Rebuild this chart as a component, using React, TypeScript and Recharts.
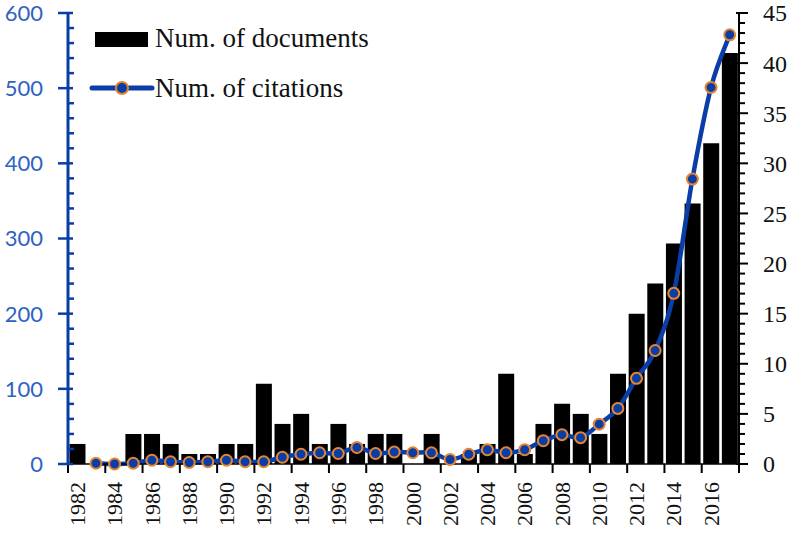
import React from 'react';
import { ComposedChart, Bar, Line, XAxis, YAxis, Legend } from 'recharts';

// values
const YEARS = [
  '1982', '1983', '1984', '1985', '1986', '1987', '1988', '1989', '1990', '1991',
  '1992', '1993', '1994', '1995', '1996', '1997', '1998', '1999', '2000', '2001',
  '2002', '2003', '2004', '2005', '2006', '2007', '2008', '2009', '2010', '2011',
  '2012', '2013', '2014', '2015', '2016', '2017',
];
const DOCUMENTS = [
  2, 0, 0, 3, 3, 2, 1, 1, 2, 2,
  8, 4, 5, 2, 4, 2, 3, 3, 0, 3,
  0, 1, 2, 9, 1, 4, 6, 5, 3, 9,
  15, 18, 22, 26, 32, 41,
];
const CITATIONS = [
  null, 1, 0, 1, 5, 3, 2, 3, 5, 3,
  3, 9, 13, 15, 14, 22, 14, 16, 15, 15,
  6, 13, 19, 15, 19, 31, 39, 35, 53, 74,
  114, 151, 227, 379, 501, 571,
];
const LEFT_TICKS = [0, 100, 200, 300, 400, 500, 600];
const RIGHT_TICKS = [0, 5, 10, 15, 20, 25, 30, 35, 40, 45];

const BLUE = '#0a3ea6';
const BLUE_TEXT = '#2f62c2';
const ORANGE = '#e5862f';
const SERIF = '"Liberation Serif", "Times New Roman", serif';
const SANS = 'Lato, "Open Sans", sans-serif';

const data = YEARS.map((y, i) => ({ year: y, documents: DOCUMENTS[i], citations: CITATIONS[i] }));

// minor ticks between the labelled ones
const leftAll: number[] = [];
for (let v = 0; v <= 600; v += 20) leftAll.push(v);
const rightAll: number[] = [];
for (let v = 0; v <= 45; v += 1) rightAll.push(v);

// Excel-like smoothed line (uniform Catmull-Rom as cubic beziers)
const smoothCurve = (context: any) => {
  let pts: number[][] = [];
  return {
    areaStart() {},
    areaEnd() {},
    lineStart() { pts = []; },
    lineEnd() {
      if (!pts.length) return;
      context.moveTo(pts[0][0], pts[0][1]);
      for (let i = 0; i < pts.length - 1; i++) {
        const p0 = pts[i - 1] || pts[i];
        const p1 = pts[i];
        const p2 = pts[i + 1];
        const p3 = pts[i + 2] || p2;
        context.bezierCurveTo(
          p1[0] + (p2[0] - p0[0]) / 6, p1[1] + (p2[1] - p0[1]) / 6,
          p2[0] - (p3[0] - p1[0]) / 6, p2[1] - (p3[1] - p1[1]) / 6,
          p2[0], p2[1],
        );
      }
    },
    point(x: number, y: number) { pts.push([+x, +y]); },
  };
};

const LeftTick = (props: any) => {
  const { x, y, payload } = props;
  const major = LEFT_TICKS.includes(payload.value);
  return (
    <g>
      {major ? (
        <line x1={x - 10} x2={x + 5} y1={y} y2={y} stroke={BLUE} strokeWidth={2.5} />
      ) : (
        <line x1={x} x2={x + 6} y1={y} y2={y} stroke={BLUE} strokeWidth={2.5} />
      )}
      {major && (
        <text x={x - 25} y={y} dy="0.36em" textAnchor="end" fill={BLUE_TEXT}
          fontFamily={SANS} fontSize={22} style={{ fontFamily: SANS, fontSize: 22 }}>
          {payload.value}
        </text>
      )}
    </g>
  );
};

const RightTick = (props: any) => {
  const { x, y, payload } = props;
  const major = RIGHT_TICKS.includes(payload.value);
  return (
    <g>
      {major ? (
        <line x1={x - 3} x2={x + 9} y1={y} y2={y} stroke="#000" strokeWidth={2} />
      ) : (
        <line x1={x} x2={x + 6} y1={y} y2={y} stroke="#000" strokeWidth={2} />
      )}
      {major && (
        <text x={x + 24} y={y} dy="0.35em" textAnchor="start" fill="#111"
          fontFamily={SERIF} fontSize={24} style={{ fontFamily: SERIF, fontSize: 24 }}>
          {payload.value}
        </text>
      )}
    </g>
  );
};

const YearTick = (props: any) => {
  const { x, y, payload, index } = props;
  const half = payload.offset ?? 9.3;
  const even = Number(payload.value) % 2 === 0;
  const last = index === YEARS.length - 1;
  return (
    <g>
      {even && <line x1={x - half} x2={x - half} y1={y} y2={y + 9} stroke="#000" strokeWidth={2} />}
      {last && <line x1={x + half} x2={x + half} y1={y} y2={y + 9} stroke="#000" strokeWidth={2} />}
      {even && (
        <text x={x} y={y + 18} dy="0.35em" textAnchor="end" fill="#111"
          transform={`rotate(-90, ${x}, ${y + 18})`}
          fontFamily={SERIF} fontSize={22} style={{ fontFamily: SERIF, fontSize: 22 }}>
          {payload.value}
        </text>
      )}
    </g>
  );
};

const renderLegend = () => (
  <svg width={400} height={110} style={{ display: 'block' }}>
    <rect x={95} y={32} width={53} height={15} fill="#000" />
    <text x={155} y={47} fill="#111" style={{ fontFamily: SERIF, fontSize: 27 }}>Num. of documents</text>
    <line x1={92} x2={152} y1={88} y2={88} stroke={BLUE} strokeWidth={5} strokeLinecap="round" />
    <circle cx={122} cy={88} r={6} fill={BLUE} stroke={ORANGE} strokeWidth={2} />
    <text x={155} y={97} fill="#111" style={{ fontFamily: SERIF, fontSize: 27 }}>Num. of citations</text>
  </svg>
);

export default function App() {
  return (
    <div style={{ position: 'absolute', left: 0, top: 0, width: 792, height: 537, background: '#fff' }}>
      <ComposedChart width={792} height={537} data={data} barCategoryGap="8%"
        margin={{ top: 13, right: 0, bottom: 0, left: 0 }}>
        <XAxis dataKey="year" height={73} interval={0} tickSize={0} tickMargin={0}
          axisLine={{ stroke: '#000', strokeWidth: 1.5 }} tickLine={false} tick={<YearTick />} />
        <YAxis yAxisId="left" orientation="left" width={68} domain={[0, 600]} ticks={leftAll}
          interval={0} tickSize={0} tickMargin={0} tickLine={false}
          axisLine={{ stroke: BLUE, strokeWidth: 3 }} tick={<LeftTick />} />
        <YAxis yAxisId="right" orientation="right" width={53} domain={[0, 45]} ticks={rightAll}
          interval={0} tickSize={0} tickMargin={0} tickLine={false}
          axisLine={{ stroke: '#000', strokeWidth: 2 }} tick={<RightTick />} />
        <Legend content={renderLegend} layout="horizontal" verticalAlign="middle" align="center"
          wrapperStyle={{ left: 0, top: 0, width: 400, height: 110 }} />
        <Bar yAxisId="right" dataKey="documents" fill="#000" isAnimationActive={false} />
        <Line yAxisId="left" dataKey="citations" type={smoothCurve as any} stroke={BLUE} strokeWidth={4.5}
          dot={{ r: 5.5, fill: BLUE, stroke: ORANGE, strokeWidth: 2 }} activeDot={false}
          isAnimationActive={false} />
      </ComposedChart>
    </div>
  );
}
